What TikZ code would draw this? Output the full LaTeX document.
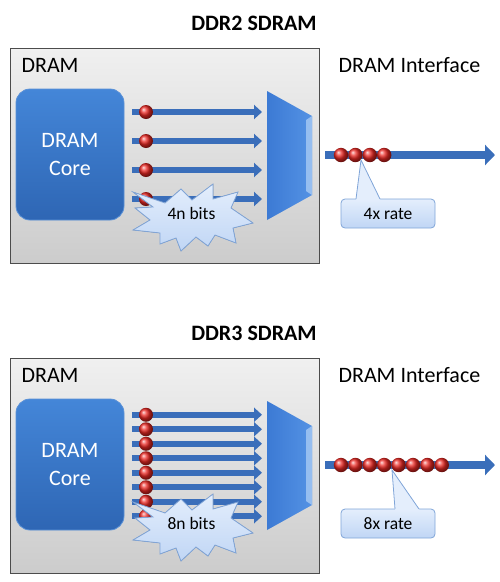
\documentclass[tikz,border=0pt]{standalone}
\usepackage{fontspec}
\setmainfont{Carlito}
\usetikzlibrary{arrows.meta}

\definecolor{boxtop}{RGB}{240,240,240}
\definecolor{boxbot}{RGB}{204,204,204}
\definecolor{coretop}{RGB}{68,134,216}
\definecolor{corebot}{RGB}{46,102,180}
\definecolor{coreline}{RGB}{90,145,215}
\definecolor{busblue}{RGB}{58,110,186}
\definecolor{muxl}{RGB}{60,122,212}
\definecolor{muxr}{RGB}{84,146,228}
\definecolor{bevel}{RGB}{150,190,240}
\definecolor{cloudtop}{RGB}{228,238,252}
\definecolor{cloudbot}{RGB}{192,214,245}
\definecolor{cloudline}{RGB}{128,165,216}
\definecolor{beadred}{RGB}{235,40,35}

\begin{document}
\begin{tikzpicture}[x=1pt,y=-1pt,
    bigtext/.style={font=\fontsize{22}{27.5}\selectfont},
    smalltext/.style={font=\fontsize{17.5}{20}\selectfont},
    chipbox/.style={draw=black!70,line width=0.8pt,top color=boxtop,bottom color=boxbot},
    core/.style={bigtext,text=white,align=center,draw=coreline,line width=0.8pt,
      rounded corners=14pt,top color=coretop,bottom color=corebot,
      minimum width=108pt,minimum height=131pt},
    buswire/.style={draw=busblue,line width=6pt,-{Triangle[width=14pt,length=8pt]}},
    outwire/.style={draw=busblue,line width=8.5pt,-{Triangle[width=20pt,length=10pt]}},
    bead/.style={ball color=beadred},
    burst/.style={draw=cloudline,line width=0.8pt,top color=cloudtop,bottom color=cloudbot},
    callout/.style={smalltext,draw=cloudline,line width=0.8pt,rounded corners=4pt,
      top color=cloudtop,bottom color=cloudbot,minimum width=94pt,minimum height=29pt}]

  \useasboundingbox (0,0) rectangle (500,582);

  \foreach \dy/\nb/\gen/\tipx/\basex in {0/4/DDR2/361/356, 310/8/DDR3/392/395}
  {
    \begin{scope}[shift={(0,\dy)}]
      % heading
      \node[bigtext,anchor=base] (title\gen) at (254,30.5) {\bfseries \gen\ SDRAM};

      % chip
      \draw[chipbox] (10,48) rectangle (319,263);
      \node[bigtext,anchor=base west] (chip\gen) at (18,72.5) {DRAM};
      \node[bigtext,anchor=base west] (ifc\gen) at (335,72.5) {DRAM Interface};
      \node[core] (core\gen) at (70,154.5) {DRAM\\Core};

      % mux
      \shade[left color=muxl,right color=muxr]
        (267,91) -- (312,116) -- (312,195) -- (267,220) -- cycle;
      \fill[bevel] (306,120) -- (312,116) -- (312,195) -- (306,191) -- cycle;

      % parallel bits
      \pgfmathsetmacro\gap{116/\nb}
      \foreach \k in {1,...,\nb}
      {
        \pgfmathsetmacro\yk{155.5+(\k-(\nb+1)/2)*\gap}
        \coordinate (in\gen\k) at (132,\yk);
        \coordinate (mx\gen\k) at (262,\yk);
        \draw[buswire] (in\gen\k) -- (mx\gen\k);
      }
      \foreach \k in {1,...,\nb}
      {
        \pgfmathsetmacro\yk{155.5+(\k-(\nb+1)/2)*\gap}
        \shade[bead] (146,\yk) circle (7);
      }

      % serial output
      \coordinate (out\gen) at (325,155);
      \coordinate (end\gen) at (495,155);
      \draw[outwire] (out\gen) -- (end\gen);
      \foreach \k in {1,...,\nb}
        \shade[bead] ({341+(\k-1)*14.4},155) circle (7.2);

      % burst
      \filldraw[burst] (133,192) -- (165,203) -- (181,189) -- (192,200)
        -- (213,184) -- (213,199) -- (238,192) -- (231,208) -- (253,223)
        -- (233,228) -- (236,243) -- (215,235) -- (208,246) -- (196,237)
        -- (181,251) -- (176,238) -- (160,244) -- (160,233) -- (133,230)
        -- (150,220) -- (135,208) -- (153,207) -- cycle;
      \node[smalltext] (bits\gen) at (191.5,213.5) {\nb n bits};

      % rate callout
      \node[callout] (rate\gen) at (388,213.5) {\nb x rate};
      \coordinate (tip\gen) at (\tipx,160);
      \fill[cloudtop] (\basex,199) -- (tip\gen) -- (\basex+24,199)
        -- (\basex+24,200.5) -- (\basex,200.5) -- cycle;
      \draw[cloudline,line width=0.8pt] (\basex,199) -- (tip\gen) -- (\basex+24,199);
    \end{scope}
  }
\end{tikzpicture}
\end{document}
